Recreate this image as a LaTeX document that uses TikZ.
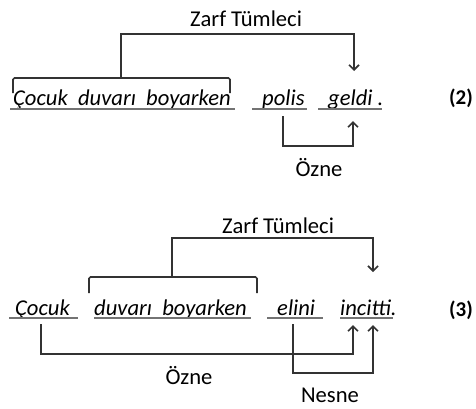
\documentclass[tikz,border=0pt]{standalone}
\usepackage{fontspec}
\setmainfont{Carlito}
\usetikzlibrary{arrows.meta}
\begin{document}
\begin{tikzpicture}[x=1pt,y=-1pt,
  word/.style={font=\fontsize{22.6}{26}\selectfont\itshape, inner sep=0pt, anchor=base west},
  lbl/.style={font=\fontsize{22.6}{26}\selectfont, inner sep=0pt},
  num/.style={font=\fontsize{21}{25}\selectfont\bfseries, inner sep=0pt, anchor=east},
  con/.style={draw=black!80, line width=1.6pt},
  arr/.style={con, -{Straight Barb[length=5pt,width=10pt,line width=1.6pt]}},
  ul/.style={draw=black!55, line width=1.3pt}]
\useasboundingbox (0,0) rectangle (476,408);
% ---------- sentence (2)
\node[lbl] (z1) at (246,19) {Zarf Tümleci};
\node[word] (w1) at (13,105) {Çocuk\ \ duvarı\ \ boyarken};
\node[word] (polis) at (262,105) {polis};
\node[word] (geldi) at (328,105) {geldi\ .};
\node[num] (n2) at (473,98) {(2)};
\node[lbl] (o1) at (319,168) {Özne};
\draw[ul] (10,109) -- (235,109);
\draw[ul] (252,109) -- (307,109);
\draw[ul] (318,109) -- (382,109);
\coordinate (br1) at (121,78);
\coordinate (g1top) at (354,71);
\coordinate (g1bot) at (353,121);
\coordinate (p1) at (283,116);
\draw[con, rounded corners=1.5pt] (13,93) |- (br1) -| (230,93);
\draw[arr] (br1) |- (200,34) -| (g1top);
\draw[arr] (p1) |- (320,146) -| (g1bot);
% ---------- sentence (3)
\node[lbl] (z2) at (278,226) {Zarf Tümleci};
\node[word] (cocuk) at (15,315) {Çocuk};
\node[word] (duvari) at (94,315) {duvarı\ \ boyarken};
\node[word] (elini) at (277,315) {elini};
\node[word] (incitti) at (340,315) {incitti.};
\node[num] (n3) at (473,310) {(3)};
\node[lbl] (o2) at (189,376) {Özne};
\node[lbl] (ne) at (330,395) {Nesne};
\draw[ul] (9,318) -- (78,318);
\draw[ul] (94,318) -- (251,318);
\draw[ul] (267,318) -- (323,318);
\draw[ul] (340,318) -- (393,318);
\coordinate (br2) at (172,277);
\coordinate (i2top) at (373,272);
\coordinate (i2a) at (353,325);
\coordinate (i2b) at (373,325);
\coordinate (c2) at (41,324);
\coordinate (e2) at (293,324);
\draw[con, rounded corners=1.5pt] (89,293) |- (br2) -| (257,293);
\draw[arr] (br2) |- (250,238) -| (i2top);
\draw[arr] (c2) |- (200,354) -| (i2a);
\draw[arr] (e2) |- (330,373) -| (i2b);
\end{tikzpicture}
\end{document}
